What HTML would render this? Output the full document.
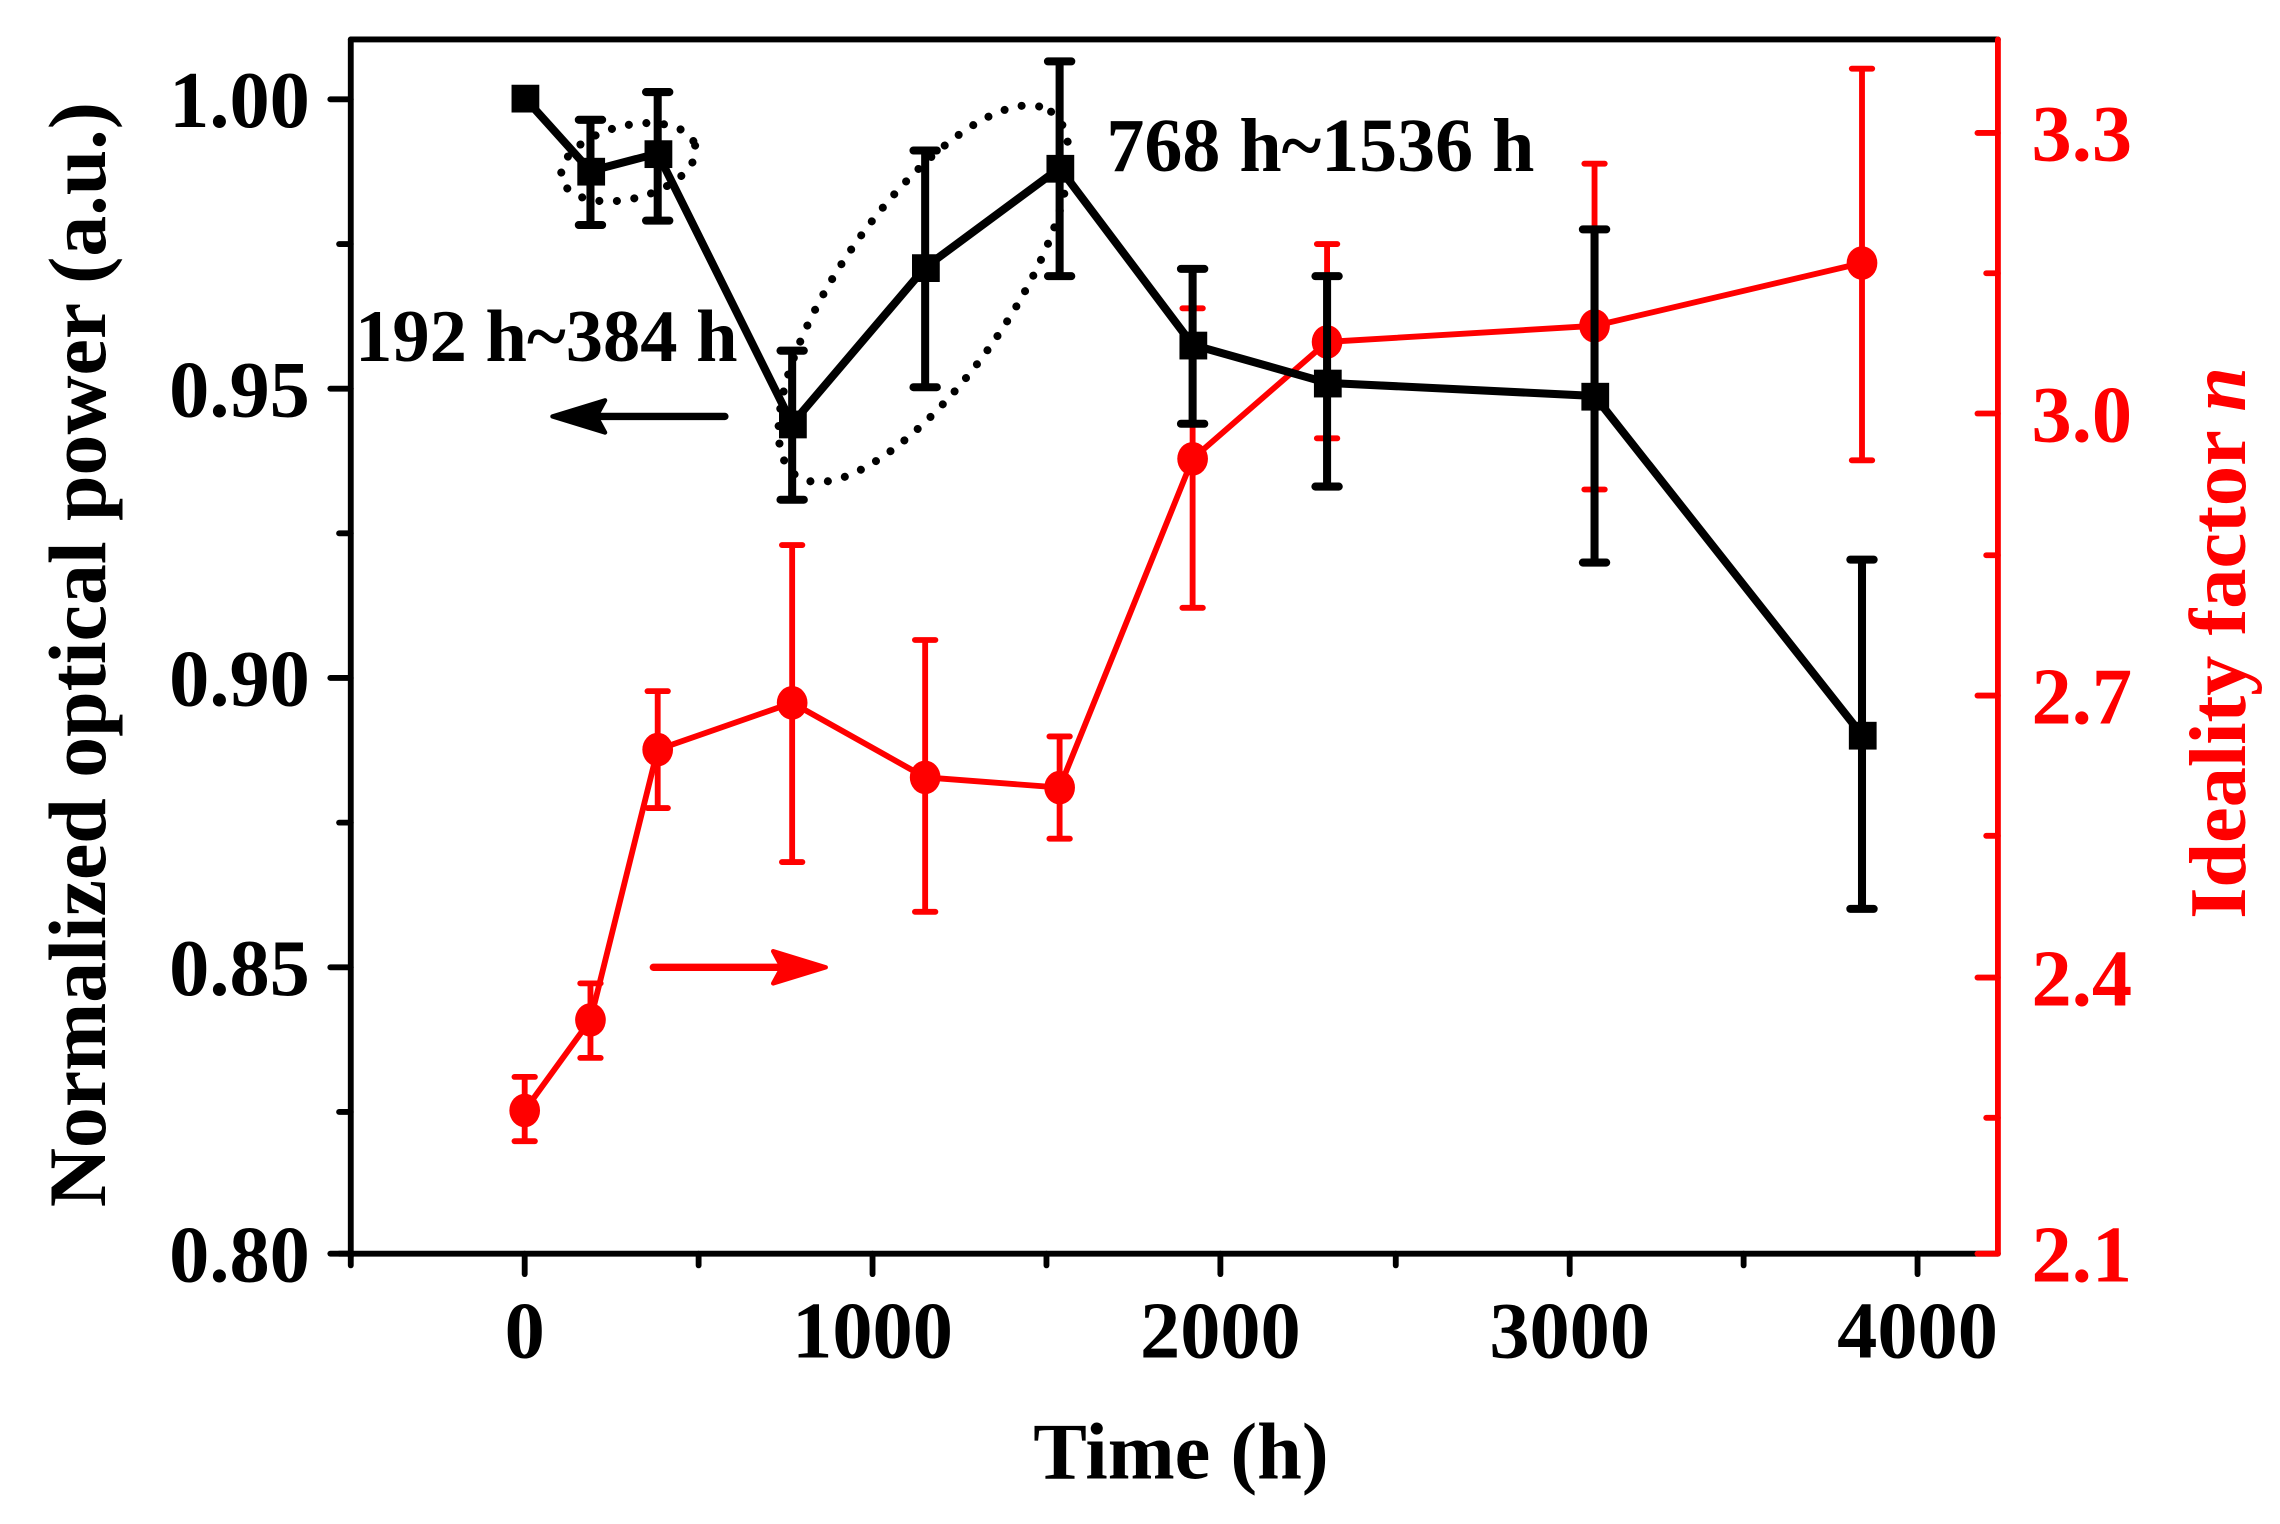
<!DOCTYPE html>
<html><head><meta charset="utf-8"><style>
html,body{margin:0;padding:0;background:#fff;}
svg{display:block;}
text{font-family:"Liberation Serif",serif;font-weight:bold;}
</style></head><body>
<svg width="2280" height="1524" viewBox="0 0 1560 1043" preserveAspectRatio="none" xmlns="http://www.w3.org/2000/svg">
<rect width="1560" height="1043" fill="#fff"/>
<g fill="none" stroke="#000" stroke-width="5.5" stroke-linecap="round" stroke-dasharray="0 12">
<ellipse cx="430" cy="111" rx="47" ry="25" transform="rotate(-14 430 111)"/>
<ellipse cx="632" cy="201" rx="152" ry="58" transform="rotate(-55 632 201)"/>
</g>
<g stroke="#000" stroke-width="4" stroke-linecap="round" fill="none">
<line x1="240" y1="27" x2="1367" y2="27"/>
<line x1="240" y1="27" x2="240" y2="860"/>
<line x1="232" y1="858" x2="1367" y2="858"/>
<line x1="226" y1="68" x2="240" y2="68"/><line x1="226" y1="266" x2="240" y2="266"/>
<line x1="226" y1="464" x2="240" y2="464"/><line x1="226" y1="662" x2="240" y2="662"/>
<line x1="226" y1="858" x2="240" y2="858"/>
<line x1="232" y1="167" x2="240" y2="167"/><line x1="232" y1="365" x2="240" y2="365"/>
<line x1="232" y1="563" x2="240" y2="563"/><line x1="232" y1="761" x2="240" y2="761"/>
<line x1="359" y1="858" x2="359" y2="872"/><line x1="597" y1="858" x2="597" y2="872"/>
<line x1="835" y1="858" x2="835" y2="872"/><line x1="1074" y1="858" x2="1074" y2="872"/>
<line x1="1312" y1="858" x2="1312" y2="872"/>
<line x1="240" y1="858" x2="240" y2="866"/><line x1="478" y1="858" x2="478" y2="866"/>
<line x1="716" y1="858" x2="716" y2="866"/><line x1="955" y1="858" x2="955" y2="866"/>
<line x1="1193" y1="858" x2="1193" y2="866"/>
</g>
<g stroke="#f00" stroke-width="4" stroke-linecap="round" fill="none">
<line x1="1367" y1="27" x2="1367" y2="858"/>
<line x1="1353" y1="91" x2="1367" y2="91"/><line x1="1353" y1="283" x2="1367" y2="283"/>
<line x1="1353" y1="476" x2="1367" y2="476"/><line x1="1353" y1="669" x2="1367" y2="669"/>
<line x1="1353" y1="858" x2="1367" y2="858"/>
<line x1="1359" y1="187" x2="1367" y2="187"/><line x1="1359" y1="380" x2="1367" y2="380"/>
<line x1="1359" y1="572" x2="1367" y2="572"/><line x1="1359" y1="765" x2="1367" y2="765"/>
</g>
<g font-size="55" text-anchor="end" fill="#000">
<text x="212" y="87">1.00</text><text x="212" y="285">0.95</text>
<text x="212" y="483">0.90</text><text x="212" y="681">0.85</text>
<text x="212" y="877">0.80</text>
</g>
<g font-size="55" text-anchor="middle" fill="#000">
<text x="359" y="929">0</text><text x="597" y="929">1000</text>
<text x="835" y="929">2000</text><text x="1074" y="929">3000</text>
<text x="1312" y="929">4000</text>
</g>
<g font-size="55" fill="#f00">
<text x="1390" y="110">3.3</text><text x="1390" y="302">3.0</text>
<text x="1390" y="495">2.7</text><text x="1390" y="688">2.4</text>
<text x="1390" y="877">2.1</text>
</g>
<text x="808" y="1012" font-size="55" text-anchor="middle">Time (h)</text>
<text transform="translate(72 448) rotate(-90)" font-size="56" text-anchor="middle">Normalized optical power (a.u.)</text>
<text transform="translate(1536 440) rotate(-90)" font-size="55" text-anchor="middle" fill="#f00">Ideality factor <tspan font-style="italic">n</tspan></text>
<text x="757" y="117" font-size="52">768 h~1536 h</text>
<text x="243" y="247" font-size="51">192 h~384 h</text>
<line x1="496" y1="285" x2="400" y2="285" stroke="#000" stroke-width="5" stroke-linecap="round"/>
<polygon points="378,285 414,274 408,285 414,296" fill="#000" stroke="#000" stroke-width="3" stroke-linejoin="round"/>
<line x1="447" y1="662" x2="540" y2="662" stroke="#f00" stroke-width="5" stroke-linecap="round"/>
<polygon points="565,662 529,651 535,662 529,673" fill="#f00" stroke="#f00" stroke-width="3" stroke-linejoin="round"/>
<g stroke="#f00" stroke-width="4" fill="none" stroke-linecap="round">
<polyline points="359,760 404,698 450,513 542,481 633,532 725,539 816,314 908,234 1091,223 1274,180"/>
<path d="M359 737V781M352 737H366M352 781H366
M404 673V724M397 673H411M397 724H411
M450 473V553M443 473H457M443 553H457
M542 373V590M535 373H549M535 590H549
M633 438V624M626 438H640M626 624H640
M725 504V574M718 504H732M718 574H732
M816 211V416M809 211H823M809 416H823
M908 167V300M901 167H915M901 300H915
M1091 112V335M1084 112H1098M1084 335H1098
M1274 47V315M1267 47H1281M1267 315H1281"/>
</g>
<g fill="#f00">
<ellipse cx="359" cy="760" rx="10.5" ry="11.5"/><ellipse cx="404" cy="698" rx="10.5" ry="11.5"/>
<ellipse cx="450" cy="513" rx="10.5" ry="11.5"/><ellipse cx="542" cy="481" rx="10.5" ry="11.5"/>
<ellipse cx="633" cy="532" rx="10.5" ry="11.5"/><ellipse cx="725" cy="539" rx="10.5" ry="11.5"/>
<ellipse cx="816" cy="314" rx="10.5" ry="11.5"/><ellipse cx="908" cy="234" rx="10.5" ry="11.5"/>
<ellipse cx="1091" cy="223" rx="10.5" ry="11.5"/><ellipse cx="1274" cy="180" rx="10.5" ry="11.5"/>
</g>
<g stroke="#000" stroke-width="5.5" fill="none" stroke-linecap="round">
<polyline points="359,67 404,117 450,105 542,290 633,183 725,115 816,236 908,262 1091,271 1274,503"/>
<path d="M404 82V154M396 82H412M396 154H412
M450 63V151M442 63H458M442 151H458
M542 240V342M534 240H550M534 342H550
M633 103V265M625 103H641M625 265H641
M725 42V189M717 42H733M717 189H733
M816 184V290M808 184H824M808 290H824
M908 189V333M900 189H916M900 333H916
M1091 157V385M1083 157H1099M1083 385H1099
M1274 383V622M1266 383H1282M1266 622H1282"/>
</g>
<g fill="#000">
<rect x="350" y="58" width="19" height="19"/><rect x="395" y="108" width="19" height="19"/>
<rect x="441" y="96" width="19" height="19"/><rect x="533" y="281" width="19" height="19"/>
<rect x="624" y="174" width="19" height="19"/><rect x="716" y="106" width="19" height="19"/>
<rect x="807" y="227" width="19" height="19"/><rect x="899" y="253" width="19" height="19"/>
<rect x="1082" y="262" width="19" height="19"/><rect x="1265" y="494" width="19" height="19"/>
</g>
</svg>
</body></html>
